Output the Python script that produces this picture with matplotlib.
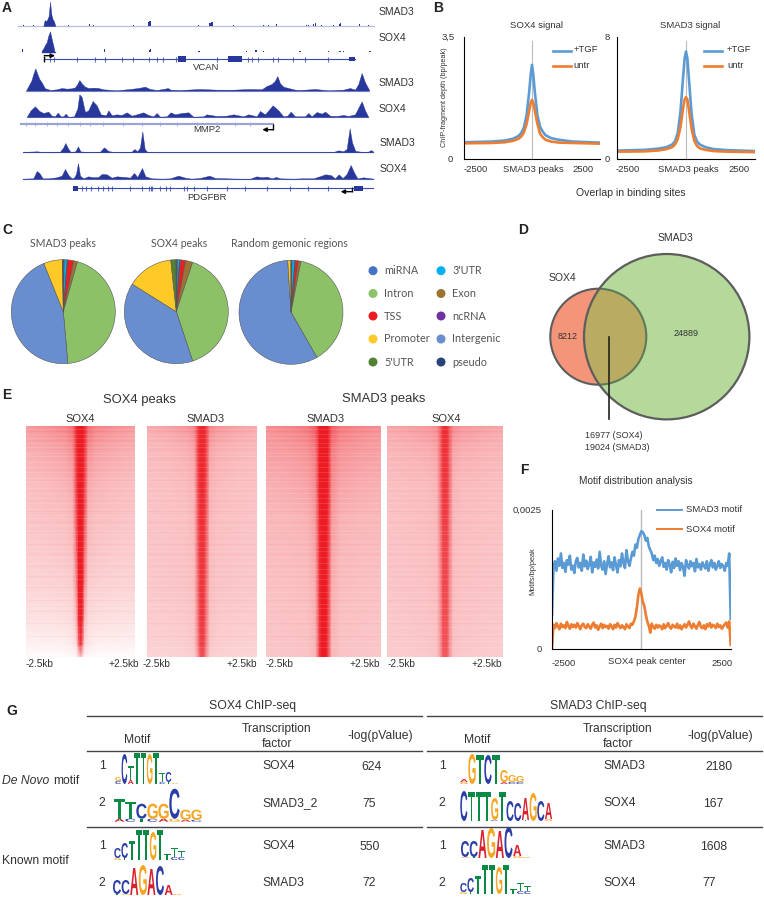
#!/usr/bin/env python3
import numpy as np
import matplotlib
matplotlib.use('Agg')
import matplotlib.pyplot as plt
from matplotlib.patches import Circle, PathPatch, Rectangle
from matplotlib.textpath import TextPath
from matplotlib.font_manager import FontProperties
from matplotlib.transforms import Affine2D
from matplotlib.colors import LinearSegmentedColormap

plt.rcParams['font.family'] = ['Liberation Sans', 'DejaVu Sans']

W, H = 764, 898
TXT = '#333333'
NAVY = '#27379b'
GENE = '#3a4bb0'
BLUE = '#5b9bd5'
ORANGE = '#ed7d31'

# ---------- A: browser tracks (x, height in 1/3 px of the panel) ----------
T1_X = [130, 134, 138, 142, 146, 150, 154, 158, 162, 166]
T1_H = [0, 18, 14, 20, 30, 73, 35, 20, 14, 0]
T1_BLIP_X = [70, 100, 205, 268, 280, 400, 447, 450, 452, 596, 630, 636, 700, 790, 805, 830, 920, 925, 940, 947, 965, 1000, 1018, 1022, 1078, 1105]
T1_BLIP_H = [2, 2, 2, 6, 4, 2, 12, 14, 10, 3, 8, 12, 2, 3, 3, 6, 4, 4, 6, 8, 3, 4, 6, 8, 6, 3]

T2_X = [125, 130, 135, 140, 145, 150, 155, 160, 163]
T2_H = [5, 12, 22, 30, 50, 63, 40, 20, 5]
T2_BLIP_X = [68, 314, 395, 448, 451, 597, 640, 740, 768, 790, 810, 835, 900, 930, 950, 985, 1020, 1030, 1110]
T2_BLIP_H = [10, 10, 2, 8, 10, 3, 2, 4, 6, 3, 2, 2, 4, 2, 2, 4, 5, 4, 3]

T3_X = [78, 94, 100, 106, 112, 118, 125, 135, 145, 150, 170, 185, 200, 215, 225, 232, 238, 245, 255, 265, 280, 295, 310, 350, 390, 415, 435, 450, 470, 495, 503, 512, 540, 600, 650, 700, 750, 785, 800, 815, 825, 832, 840, 850, 865, 885, 900, 945, 985, 1030, 1050, 1065, 1075, 1085, 1095, 1107]
T3_H = [0, 30, 50, 67, 50, 35, 25, 7, 4, 2, 4, 8, 6, 7, 10, 20, 32, 22, 12, 8, 9, 8, 4, 1, 5, 8, 12, 5, 2, 6, 8, 3, 2, 5, 3, 3, 5, 4, 14, 20, 30, 44, 22, 12, 8, 3, 2, 5, 1, 3, 8, 3, 20, 53, 25, 3]

T4_X = [80, 92, 105, 118, 130, 145, 155, 165, 173, 182, 190, 197, 205, 222, 232, 238, 245, 255, 265, 278, 290, 302, 318, 325, 335, 350, 365, 380, 395, 410, 430, 445, 460, 470, 480, 500, 512, 525, 545, 565, 580, 610, 620, 650, 680, 700, 730, 745, 770, 780, 795, 818, 835, 850, 862, 872, 885, 915, 925, 935, 950, 965, 975, 990, 1010, 1030, 1045, 1065, 1085, 1095, 1105]
T4_H = [0, 20, 32, 18, 12, 16, 4, 2, 13, 2, 2, 10, 0, 2, 25, 68, 60, 15, 20, 48, 35, 8, 5, 20, 5, 8, 6, 14, 4, 8, 14, 6, 2, 12, 1, 2, 14, 8, 12, 14, 1, 2, 8, 3, 4, 8, 2, 8, 2, 18, 8, 35, 20, 2, 4, 16, 2, 2, 12, 2, 15, 10, 16, 4, 3, 6, 3, 8, 47, 20, 0]

T5_X = [68, 110, 130, 180, 190, 196, 204, 212, 226, 234, 241, 260, 300, 312, 325, 340, 395, 403, 412, 420, 427, 434, 442, 500, 800, 1000, 1015, 1030, 1040, 1049, 1056, 1066, 1090, 1105, 1113, 1120]
T5_H = [1, 3, 1, 2, 15, 28, 12, 1, 3, 18, 3, 1, 2, 15, 4, 1, 2, 10, 3, 15, 63, 10, 1, 1, 1, 1, 6, 3, 10, 72, 30, 4, 1, 2, 7, 2]

T6_X = [68, 100, 110, 118, 128, 145, 170, 185, 195, 205, 215, 222, 228, 234, 240, 250, 265, 280, 295, 305, 320, 335, 350, 375, 390, 402, 412, 426, 436, 455, 490, 510, 535, 555, 575, 600, 628, 645, 680, 720, 750, 770, 785, 800, 815, 828, 840, 880, 905, 940, 965, 975, 992, 1005, 1016, 1028, 1040, 1052, 1062, 1072, 1090, 1105, 1120]
T6_H = [1, 2, 24, 18, 2, 2, 5, 10, 30, 12, 2, 4, 15, 48, 10, 2, 8, 5, 6, 15, 14, 4, 8, 6, 4, 18, 6, 33, 8, 2, 1, 2, 10, 4, 1, 3, 10, 3, 2, 1, 1, 8, 5, 7, 2, 6, 2, 1, 2, 2, 10, 14, 12, 2, 14, 3, 15, 42, 20, 2, 5, 3, 1]

VCAN_TICKS = [150, 163, 230, 285, 316, 365, 400, 447, 472, 490, 527, 650, 745, 757, 775, 820, 833, 880, 915, 985]
MMP2_TICKS = [78, 105, 140, 170, 205, 240, 270, 310, 368, 425, 480, 530, 590, 650, 705, 750]
PDGFBR_TICKS = [245, 258, 272, 295, 308, 325, 335, 390, 427, 447, 452, 457, 480, 497, 510, 552, 562, 582, 620, 680, 735, 800, 870, 925, 985]

# ---------- B: average profiles ----------
B_POS = [-2500, -1500, -1000, -700, -500, -400, -300, -200, -100, -50, 0, 50, 100, 200, 300, 400, 500, 700, 1000, 1500, 2500]
SOX4_TGF = [.48, .50, .53, .58, .66, .74, .90, 1.25, 1.95, 2.4, 2.7, 2.4, 1.95, 1.25, .92, .78, .68, .60, .55, .50, .47]
SOX4_UNTR = [.45, .46, .48, .52, .58, .64, .76, 1.0, 1.4, 1.6, 1.7, 1.6, 1.4, 1.0, .72, .62, .55, .50, .47, .46, .44]
SMAD3_TGF = [.55, .60, .68, .78, .95, 1.15, 1.7, 3.1, 5.5, 6.6, 7.05, 6.6, 5.4, 3.0, 1.6, 1.15, .95, .78, .65, .58, .52]
SMAD3_UNTR = [.48, .50, .56, .65, .78, .95, 1.3, 2.1, 3.4, 3.9, 4.05, 3.9, 3.3, 2.0, 1.2, .85, .70, .60, .52, .48, .45]

# ---------- C: genomic annotation, clockwise from 12 o'clock ----------
PIE_LABELS = ['pseudo', "3'UTR", 'ncRNA', 'TSS', 'Exon', 'Intron', 'Intergenic', 'Promoter', "5'UTR", 'miRNA']
PIE_COLORS = ['#264478', '#00b0f0', '#7030a0', '#ed1c24', '#9c7331', '#8cc168', '#698ed0', '#ffca28', '#548235', '#4472c4']
PIE_SMAD3 = [.3, .9, .2, 1.8, 1.2, 44.2, 45.3, 5.8, .2, .1]
PIE_SOX4 = [.4, .6, .3, 1.6, 2.2, 39.8, 39.0, 14.4, 1.6, .1]
PIE_RANDOM = [.3, .9, .2, .9, .8, 38.6, 57.3, 1.0, 0, 0]
LEGEND_LEFT = ['miRNA', 'Intron', 'TSS', 'Promoter', "5'UTR"]
LEGEND_LEFT_C = ['#4472c4', '#8cc168', '#ed1c24', '#ffca28', '#548235']
LEGEND_RIGHT = ["3'UTR", 'Exon', 'ncRNA', 'Intergenic', 'pseudo']
LEGEND_RIGHT_C = ['#00b0f0', '#9c7331', '#7030a0', '#698ed0', '#264478']

# ---------- E: heatmaps, red level per row, half profile edge -> centre ----------
HM_ROWS = [0, .03, .1, .25, .4, .55, .7, .85, .95, 1]
HM_COLS = [2500, 1500, 700, 350, 180, 90, 0]
HM_SOX4_SOX4 = [[.45, .50, .55, .65, .95, 1, 1],
                [.40, .45, .50, .60, .95, 1, 1],
                [.35, .38, .42, .50, .90, 1, 1],
                [.28, .30, .33, .38, .85, 1, 1],
                [.25, .27, .28, .32, .75, 1, 1],
                [.22, .23, .25, .28, .65, 1, 1],
                [.18, .19, .20, .22, .50, 1, 1],
                [.12, .13, .14, .16, .30, .90, 1],
                [.06, .07, .07, .10, .16, .60, .9],
                [.02, .02, .02, .03, .04, .12, .2]]
HM_SOX4_SMAD3 = [[.38, .42, .48, .55, .85, .95, .95],
                 [.34, .38, .42, .50, .85, .95, .95],
                 [.30, .32, .35, .40, .85, .95, .95],
                 [.27, .28, .30, .34, .80, .92, .95],
                 [.26, .27, .28, .32, .75, .90, .92],
                 [.25, .26, .27, .30, .70, .88, .90],
                 [.24, .25, .26, .29, .65, .85, .88],
                 [.22, .23, .24, .27, .60, .85, .88],
                 [.20, .21, .22, .25, .55, .80, .85],
                 [.18, .19, .20, .22, .45, .70, .75]]
HM_SMAD3_SMAD3 = [[.50, .54, .60, .72, 1, 1, 1],
                  [.46, .50, .56, .68, 1, 1, 1],
                  [.42, .44, .48, .58, 1, 1, 1],
                  [.35, .37, .40, .50, 1, 1, 1],
                  [.31, .32, .34, .44, .95, 1, 1],
                  [.29, .30, .31, .40, .92, 1, 1],
                  [.27, .28, .29, .36, .90, 1, 1],
                  [.26, .27, .28, .34, .88, 1, 1],
                  [.25, .26, .27, .32, .85, 1, 1],
                  [.24, .25, .26, .32, .85, 1, 1]]
HM_SMAD3_SOX4 = [[.40, .43, .46, .52, .72, .92, .92],
                 [.36, .40, .43, .48, .72, .92, .92],
                 [.32, .34, .36, .40, .70, .90, .90],
                 [.28, .29, .30, .33, .66, .88, .88],
                 [.27, .28, .29, .31, .62, .85, .85],
                 [.26, .27, .28, .30, .58, .82, .82],
                 [.25, .26, .27, .29, .55, .80, .80],
                 [.24, .25, .26, .28, .52, .78, .78],
                 [.23, .24, .25, .27, .50, .75, .75],
                 [.22, .23, .24, .26, .48, .72, .72]]
HM_LIGHT_ROWS = [.012, .035, .05, .072, .09, .115, .13, .155, .178, .2, .225, .24, .268, .29, .31, .335, .36, .385, .4, .43, .455, .47, .5, .525, .54, .57, .595, .62, .64, .665, .69, .72, .745, .77, .79, .82, .845, .87, .9, .93, .96]
HM_DARK_ROWS = [.022, .06, .1, .14, .19, .235, .28, .32, .37, .415, .46, .51, .555, .605, .65, .7, .755, .8, .855, .91]

# ---------- F: motif density (x 1e-5) ----------
F_SMAD3 = [62, 148, 158, 141, 163, 150, 172, 146, 155, 139, 160, 152, 168, 143, 150, 137, 158, 164, 147, 155, 141, 170, 149, 159, 144, 152, 166, 138, 156, 148, 161, 145, 175, 150, 143, 158, 135, 153, 167, 147, 156, 142, 165, 151, 138, 160, 149, 172, 155, 146, 178, 158, 150, 163, 175, 168, 188, 182, 198, 205, 212, 210, 205, 195, 200, 185, 178, 172, 160, 168, 155, 162, 150, 158, 165, 148, 155, 143, 160, 152, 138, 157, 146, 163, 150, 158, 142, 155, 148, 132, 160, 151, 145, 158, 149, 155, 140, 162, 147, 153, 143, 156, 150, 145, 158, 141, 152, 160, 147, 155, 143, 150, 158, 146, 153, 149, 141, 155, 150, 172, 55]
F_SOX4 = [2, 44, 38, 47, 41, 36, 46, 40, 43, 38, 49, 42, 37, 45, 40, 44, 39, 47, 42, 36, 43, 46, 40, 38, 45, 41, 37, 44, 48, 39, 43, 35, 41, 46, 38, 44, 40, 42, 37, 45, 41, 36, 44, 39, 47, 42, 38, 43, 40, 36, 45, 41, 38, 46, 44, 50, 58, 75, 98, 109, 100, 85, 78, 62, 50, 42, 30, 46, 40, 37, 44, 39, 43, 41, 36, 45, 38, 42, 47, 40, 37, 44, 41, 39, 46, 38, 43, 36, 41, 45, 39, 44, 50, 42, 38, 46, 41, 37, 44, 49, 40, 38, 43, 36, 45, 41, 47, 39, 44, 42, 38, 46, 40, 43, 37, 41, 45, 48, 39, 50, 8]

# ---------- G: sequence logos ----------
LOGO_COLORS = {'T': '#0b8a45', 'C': '#2b3ea8', 'G': '#f5a623', 'A': '#d8202e'}
L1_TOP, L1_H = 'GCTTTGTTCG', [4, 30, 14, 31, 31, 30, 31, 9, 10, 1]
L1_LOW, L1_LH = 'C A    CT ', [3, 0, 4, 0, 0, 0, 0, 2, 2, 0]
L2_TOP, L2_H = 'TTCGGCGG', [20, 17, 15, 15, 15, 30, 10, 10]
L2_LOW, L2_LH = 'ACTCAGAC', [3, 3, 3, 3, 3, 3, 2, 2]
L3_TOP, L3_H = 'CCTTTGTTTT', [10, 15, 19, 30, 30, 28, 30, 6, 9, 6]
L3_LOW, L3_LH = 'GT A    CC', [2, 2, 3, 0, 0, 0, 0, 3, 3, 3]
L4_TOP, L4_H = 'CCAGACAG', [14, 14, 27, 30, 26, 29, 10, 1]
L4_LOW, L4_LH = 'TG      ', [1, 1, 0, 0, 0, 0, 1, 0]
L5_TOP, L5_H = 'AGTCTGGG', [3, 30, 29, 29, 29, 12, 7, 6]
L5_LOW, L5_LH = 'G    ACC', [2, 0, 0, 0, 0, 2, 2, 2]
L6_TOP, L6_H = 'CTTTGTCCAGCA', [30, 29, 29, 29, 22, 29, 20, 18, 22, 28, 20, 16]
L6_LOW, L6_LH = '    C   T  G', [0, 0, 0, 0, 1, 0, 0, 0, 1, 0, 0, 2]
L7_TOP, L7_H = 'CCAGACAG', [16, 16, 28, 30, 27, 31, 11, 1]
L7_LOW, L7_LH = 'GT    G ', [1, 1, 0, 0, 0, 0, 2, 0]
L8_TOP, L8_H = 'CCTTTGTTTT', [9, 14, 18, 29, 29, 27, 29, 5, 8, 5]
L8_LOW, L8_LH = 'GT A    CC', [2, 2, 3, 0, 0, 0, 0, 3, 3, 3]

fig = plt.figure(figsize=(W / 100, H / 100), dpi=100, facecolor='white')


def px_axes(x0, y0, x1, y1, **kw):
    # axes placed by pixel box of the target picture
    return fig.add_axes([x0 / W, 1 - y1 / H, (x1 - x0) / W, (y1 - y0) / H], **kw)


over = px_axes(0, 0, W, H, zorder=10)
over.set_xlim(0, W)
over.set_ylim(H, 0)
over.axis('off')
over.patch.set_alpha(0)


def label(x, y, s, size=7.5, ha='left', **kw):
    kw.setdefault('color', TXT)
    over.text(x, y, s, fontsize=size, ha=ha, va='center', **kw)


for s, x, y in [('A', 2, 8), ('B', 433, 8), ('C', 2, 230), ('D', 518, 230), ('E', 2, 395), ('F', 520, 470), ('G', 6, 711)]:
    label(x, y, s, size=10, weight='bold', color='#222222')

# ========== A ==========
axA = px_axes(0, 0, 420, 210)
axA.set_xlim(0, 1260)
axA.set_ylim(630, 0)
axA.axis('off')


def track(x, h, base, xr, blip_x=None, blip_h=None, line='#b9bee3'):
    axA.plot(xr, [base, base], color=line, lw=0.9, zorder=1)
    axA.fill_between(x, base, base - np.array(h), color=NAVY, lw=0.3, zorder=2)
    if blip_x:
        axA.bar(blip_x, -np.array(blip_h), bottom=base, width=4, color=NAVY, lw=0, zorder=2)


def gene(y, xr, ticks, tick_h=8, lw=0.8, color=GENE):
    axA.plot(xr, [y, y], color=color, lw=lw, zorder=1)
    axA.vlines(ticks, y - tick_h, y + tick_h, color=color, lw=0.8, alpha=0.8)


def exon(x0, x1, y, h=9):
    axA.add_patch(Rectangle((x0, y - h), x1 - x0, 2 * h, color=NAVY, lw=0))


def tss(xs, ys):
    axA.plot(xs[:-1], ys[:-1], color='black', lw=1.0, solid_capstyle='butt')
    axA.annotate('', xy=(xs[-1], ys[-1]), xytext=(xs[-2], ys[-2]),
                 arrowprops=dict(arrowstyle='-|>', color='black', lw=1.0, mutation_scale=6, shrinkA=0, shrinkB=0))


track(T1_X, T1_H, 78, [55, 1123], T1_BLIP_X, T1_BLIP_H)
track(T2_X, T2_H, 157, [125, 165], T2_BLIP_X, T2_BLIP_H, line=NAVY)
gene(178, [133, 1065], VCAN_TICKS)
exon(533, 558, 178)
exon(683, 727, 178)
exon(1047, 1066, 178, h=6)
tss([133, 133, 165], [185, 167, 167])
track(T3_X, T3_H, 272, [78, 1107])
track(T4_X, T4_H, 351, [80, 1105])
gene(372, [63, 820], MMP2_TICKS, tick_h=5, lw=1.5, color='#9aa2d8')
tss([820, 820, 787], [372, 389, 389])
track(T5_X, T5_H, 457, [68, 1120])
track(T6_X, T6_H, 537, [68, 1120])
gene(565, [218, 1120], PDGFBR_TICKS, tick_h=7)
exon(218, 234, 565, h=7)
exon(1062, 1090, 565, h=7)
tss([1055, 1055, 1022], [560, 575, 575])

for s, x, y in [('SMAD3', 379, 12), ('SOX4', 379, 38), ('SMAD3', 379, 83), ('SOX4', 379, 109), ('SMAD3', 380, 143), ('SOX4', 380, 169)]:
    label(x, y, s, size=7.5)
label(206.5, 67, 'VCAN', size=6.8, ha='center')
label(206.5, 130, 'MMP2', size=6.8, ha='center')
label(206.5, 198, 'PDGFBR', size=6.8, ha='center')

# ========== B ==========


def profile(box, ymax, tgf, untr):
    ax = px_axes(*box)
    ax.set_xlim(-2500, 2500)
    ax.set_ylim(0, ymax)
    ax.axvline(0, color='#bbbbbb', lw=0.8, ymax=0.97)
    ax.plot(B_POS, tgf, color=BLUE, lw=1.9)
    ax.plot(B_POS, untr, color=ORANGE, lw=1.9)
    for side in ('top', 'right'):
        ax.spines[side].set_visible(False)
    ax.set_xticks([])
    ax.set_yticks([])
    ax.patch.set_alpha(0)
    return ax


profile((464, 37, 600, 159), 3.5, SOX4_TGF, SOX4_UNTR)
profile((617, 37, 755, 159), 8, SMAD3_TGF, SMAD3_UNTR)
label(537, 26, 'SOX4 signal', size=6.8, ha='center')
label(690, 26, 'SMAD3 signal', size=6.8, ha='center')
label(455, 37, '3,5', size=6.8, ha='right')
label(453, 159, '0', size=6.8, ha='right')
label(610, 37, '8', size=6.8, ha='right')
label(610, 159, '0', size=6.8, ha='right')
label(445, 97, 'ChIP-fragment depth (bp/peak)', size=5.2, ha='center', rotation=90)
for x, s in [(476, '-2500'), (533, 'SMAD3 peaks'), (583, '2500'), (628, '-2500'), (688, 'SMAD3 peaks'), (739, '2500')]:
    label(x, 170, s, size=6.8, ha='center')
label(631, 193, 'Overlap in binding sites', size=7.6, ha='center')
for x0, x1, xt in [(553, 571, 573.5), (704, 722, 727)]:
    over.plot([x0, x1], [51, 51], color=BLUE, lw=1.9)
    over.plot([x0, x1], [66, 66], color=ORANGE, lw=1.9)
    label(xt, 49.5, '+TGF', size=6.8)
    label(xt, 66, 'untr', size=6.8)

# ========== C ==========
R = 52
for (cx, cy), vals, title, tx in [((63.3, 311.7), PIE_SMAD3, 'SMAD3 peaks', 63),
                                  ((176.3, 311.7), PIE_SOX4, 'SOX4 peaks', 179),
                                  ((291, 312.3), PIE_RANDOM, 'Random gemonic regions', 289)]:
    ax = px_axes(cx - R * 1.02, cy - R * 1.02, cx + R * 1.02, cy + R * 1.02)
    ax.pie(vals, colors=PIE_COLORS, startangle=90, counterclock=False,
           wedgeprops=dict(edgecolor='#555555', linewidth=0.4))
    ax.set_xlim(-1.02, 1.02)
    ax.set_ylim(-1.02, 1.02)
    label(tx, 243.5, title, size=7.6, ha='center', family='Lato', color='#555555')

LEG_Y = [270.7, 293.5, 316, 339, 362]
over.scatter([373] * 5, LEG_Y, s=42, c=LEGEND_LEFT_C, lw=0)
over.scatter([441] * 5, LEG_Y, s=42, c=LEGEND_RIGHT_C, lw=0)
for y, a, b in zip(LEG_Y, LEGEND_LEFT, LEGEND_RIGHT):
    label(384, y, a, size=7.8, family='Lato', color='#555555')
    label(452, y, b, size=7.8, family='Lato', color='#555555')

# ========== D ==========
sox = (598.3, 336.7, 48)
smad = (666.7, 336.7, 82.7)
over.add_patch(Circle(sox[:2], sox[2], fc='#f4957a', ec='none'))
over.add_patch(Circle(smad[:2], smad[2], fc='#b4d99a', ec='none'))
clip = Circle(smad[:2], smad[2], transform=over.transData)
inner = Circle(sox[:2], sox[2], fc='#b9ab62', ec='#5e7a58', lw=1.5)
over.add_patch(inner)
inner.set_clip_path(clip)
over.add_patch(Circle(sox[:2], sox[2], fc='none', ec='#5d5d5d', lw=1.5, zorder=3)).set_clip_path(
    Rectangle((0, 0), 600, H, transform=over.transData))
over.add_patch(Circle(smad[:2], smad[2], fc='none', ec='#5d5d5d', lw=1.6, zorder=3))
over.plot([608.7, 608.7], [336.7, 419], color='#222222', lw=1.2, zorder=4)
label(675, 238, 'SMAD3', size=7.5, ha='center')
label(562.3, 278, 'SOX4', size=7.5, ha='center')
label(567.7, 336.7, '8212', size=6.5, ha='center', zorder=5)
label(685.7, 333.3, '24889', size=6.5, ha='center', zorder=5)
label(584.7, 435, '16977 (SOX4)', size=6.5)
label(584.7, 447, '19024 (SMAD3)', size=6.5)

# ========== E ==========
red_map = LinearSegmentedColormap.from_list('wr', ['#ffffff', '#ed1c24'])
half = np.array(HM_COLS, dtype=float)
hm_x = np.r_[-half, half[-2::-1]]
for box, mat in [((25.7, 426, 135.3, 656.7), HM_SOX4_SOX4),
                 ((147.3, 426, 257, 656.7), HM_SOX4_SMAD3),
                 ((266, 426, 381.3, 656.7), HM_SMAD3_SMAD3),
                 ((387.3, 426, 503, 656.7), HM_SMAD3_SOX4)]:
    ax = px_axes(*box)
    m = np.array(mat)
    full = np.c_[m, m[:, -2::-1]]
    ax.pcolormesh(hm_x, HM_ROWS, full, cmap=red_map, vmin=0, vmax=1, shading='gouraud')
    # faint horizontal streaks of the heatmap rows
    ax.hlines(HM_LIGHT_ROWS, -2500, 2500, color='white', lw=0.5, alpha=0.16)
    ax.hlines(HM_DARK_ROWS, -2500, 2500, color='#ed1c24', lw=0.4, alpha=0.07)
    ax.set_xlim(-2500, 2500)
    ax.set_ylim(1, 0)
    ax.axis('off')
label(139.5, 400, 'SOX4 peaks', size=9.4, ha='center')
label(383.5, 399, 'SMAD3 peaks', size=9.4, ha='center')
for x, s in [(80.5, 'SOX4'), (206, 'SMAD3'), (325.5, 'SMAD3'), (446, 'SOX4')]:
    label(x, 419.5, s, size=8, ha='center')
for x, ha, s in [(25.5, 'left', '-2.5kb'), (139, 'right', '+2.5kb'), (143, 'left', '-2.5kb'), (257, 'right', '+2.5kb'),
                 (266, 'left', '-2.5kb'), (379.5, 'right', '+2.5kb'), (387.5, 'left', '-2.5kb'), (502, 'right', '+2.5kb')]:
    label(x, 664, s, size=7.3, ha=ha)

# ========== F ==========
axF = px_axes(552, 510, 730.7, 649.3)
axF.set_xlim(-2500, 2500)
axF.set_ylim(0, 250)
axF.axvline(0, color='#bbbbbb', lw=1.0)
axF.plot(np.linspace(-2500, 2500, len(F_SMAD3)), F_SMAD3, color=BLUE, lw=1.9)
axF.plot(np.linspace(-2500, 2500, len(F_SOX4)), F_SOX4, color=ORANGE, lw=1.9)
axF.set_xticks([])
axF.set_yticks([])
axF.spines['top'].set_visible(False)
axF.spines['right'].set_visible(False)
axF.patch.set_alpha(0)
label(636, 480.7, 'Motif distribution analysis', size=7.3, ha='center')
label(541.7, 510, '0,0025', size=6.8, ha='right')
label(541.7, 649, '0', size=6.8, ha='right')
label(533, 571, 'Motifs/bp/peak', size=5.3, ha='center', rotation=90)
label(564, 663, '-2500', size=6.8, ha='center')
label(721.7, 663, '2500', size=6.8, ha='center')
label(646.7, 661.5, 'SOX4 peak center', size=6.8, ha='center')
over.plot([657, 681.7], [510, 510], color=BLUE, lw=1.4)
over.plot([657, 681.7], [529.3, 529.3], color=ORANGE, lw=1.4)
label(685.7, 510, 'SMAD3 motif', size=6.8)
label(685.7, 529.3, 'SOX4 motif', size=6.8)

# ========== G ==========
logo_font = FontProperties(family='Liberation Sans', weight='bold')


def glyph(ch, x, bottom, w, h):
    tp = TextPath((0, 0), ch, size=1, prop=logo_font)
    bb = tp.get_extents()
    tr = Affine2D().translate(-bb.x0, -bb.y0).scale(w / bb.width, -h / bb.height).translate(x, bottom)
    over.add_patch(PathPatch(tr.transform_path(tp), fc=LOGO_COLORS[ch], lw=0))


def logo(x0, base, w, top, heights, low, low_heights):
    for i in range(len(top)):
        y = base
        if low[i] != ' ' and low_heights[i] > 0:
            glyph(low[i], x0 + i * w + 0.3, y, w - 0.6, low_heights[i])
            y -= low_heights[i]
        glyph(top[i], x0 + i * w + 0.3, y, w - 0.6, heights[i])


logo(115, 784, 6.3, L1_TOP, L1_H, L1_LOW, L1_LH)
logo(114, 821.7, 11, L2_TOP, L2_H, L2_LOW, L2_LH)
logo(114, 860, 7.1, L3_TOP, L3_H, L3_LOW, L3_LH)
logo(112.7, 895, 8.6, L4_TOP, L4_H, L4_LOW, L4_LH)
logo(460, 784, 8, L5_TOP, L5_H, L5_LOW, L5_LH)
logo(460, 821, 7.7, L6_TOP, L6_H, L6_LOW, L6_LH)
logo(460.7, 858, 8.7, L7_TOP, L7_H, L7_LOW, L7_LH)
logo(460, 894, 7.1, L8_TOP, L8_H, L8_LOW, L8_LH)

for y in (715.7, 750.7, 826.7):
    over.plot([87, 421.7], [y, y], color='#444444', lw=1.0)
    over.plot([427.3, 762.3], [y, y], color='#444444', lw=1.0)

label(252.7, 705.7, 'SOX4 ChIP-seq', size=8.8, ha='center')
label(598.3, 705.7, 'SMAD3 ChIP-seq', size=8.8, ha='center')
for mx, tx, px, nx, fx in [(137, 277, 380, 102, 262.7), (477.3, 617.7, 720, 442, 603.3)]:
    label(mx, 740, 'Motif', size=8.7, ha='center')
    label(tx, 729.3, 'Transcription', size=8.7, ha='center')
    label(tx, 744, 'factor', size=8.7, ha='center')
    label(px, 735.7, '-log(pValue)', size=8.7, ha='center')
    for y, s in [(766, '1'), (803, '2'), (845.7, '1'), (882.5, '2')]:
        label(nx, y, s, size=8.7, ha='center')
for y, s in [(766, 'SOX4'), (803, 'SMAD3_2'), (846, 'SOX4'), (882.5, 'SMAD3')]:
    label(262.7, y, s, size=8.7)
for y, s in [(766, 'SMAD3'), (803, 'SOX4'), (846, 'SMAD3'), (882.5, 'SOX4')]:
    label(603.3, y, s, size=8.7)
for x, y, s in [(372, 767, '624'), (369.3, 803.7, '75'), (370, 847, '550'), (369, 883, '72'),
                (718.7, 767, '2180'), (713, 803.7, '167'), (713.7, 847, '1608'), (709.3, 883, '77')]:
    label(x, y, s, size=8.7, ha='center')
label(2.3, 781, 'De Novo', size=8.7, style='italic')
label(53, 781, 'motif', size=8.7)
label(2.3, 860.7, 'Known motif', size=8.7)

fig.savefig('out.png', dpi=100)
